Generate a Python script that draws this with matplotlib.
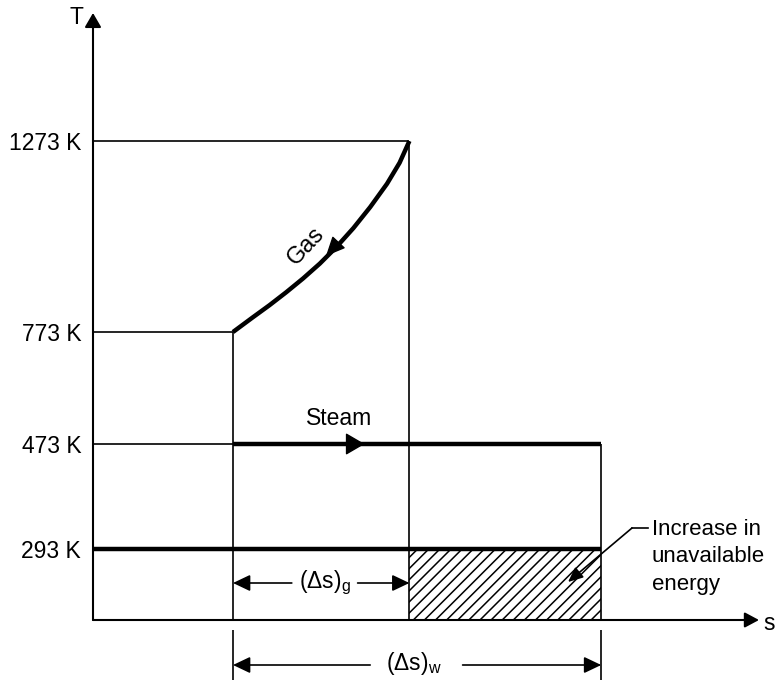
import numpy as np
import matplotlib
matplotlib.use("Agg")
import matplotlib.pyplot as plt
from matplotlib.transforms import blended_transform_factory

plt.rcParams["font.family"] = ["Liberation Sans", "DejaVu Sans"]
plt.rcParams["mathtext.fontset"] = "custom"
plt.rcParams["mathtext.rm"] = "Liberation Sans"
plt.rcParams["mathtext.it"] = "Liberation Sans:italic"
plt.rcParams["hatch.linewidth"] = 1.1

# dados (T em K, s em unidades arbitrárias)
T_levels = [1273, 773, 473, 293]
T_labels = ["1273 K", "773 K", "473 K", "293 K"]
T_gas_in, T_gas_out, T_steam, T_0 = T_levels
s_1 = 1.0   # fim do gás / início do vapor
s_2 = 2.26  # início do gás
s_3 = 3.63  # fim do vapor

# curva do gás
gas_s = [1.00, 1.14, 1.26, 1.38, 1.50, 1.62, 1.74, 1.86, 1.98, 2.10, 2.19, 2.26]
gas_T = [773, 811, 843, 877, 913, 952, 996, 1045, 1100, 1161, 1216, 1273]

# escala esquemática do eixo T (não linear, como no desenho)
knots_T = np.array([-1000.0, 0, 293, 473, 773, 1273, 3000])
knots_h = np.array([-242.3, 0, 71, 176, 288, 479, 1138.7])


def T2h(T):
    return np.interp(T, knots_T, knots_h)


def h2T(h):
    return np.interp(h, knots_h, knots_T)


fino = 1.2
grosso = 3.2

fig = plt.figure(figsize=(7.76, 6.8), dpi=100)
ax = fig.add_axes([0, 0, 1, 1])
ax.set_yscale("function", functions=(T2h, h2T))
ax.set_xlim(-93 / 140, 683 / 140)
ax.set_ylim(h2T(-60), h2T(620))

# eixos com seta
ax.spines["top"].set_color("none")
ax.spines["right"].set_color("none")
ax.spines["left"].set_position(("data", 0))
ax.spines["bottom"].set_position(("data", 0))
ax.spines["left"].set_color("none")
ax.spines["bottom"].set_color("none")
ax.set_xticks([])
ax.set_yticks(T_levels, T_labels)
ax.tick_params(axis="y", length=0, pad=8.5, labelsize=16.5)
ax.yaxis.set_minor_locator(matplotlib.ticker.NullLocator())


def seta(p0, p1, hl, hw, lw=fino, **kw):
    ax.annotate(
        "",
        xy=p1,
        xytext=p0,
        arrowprops=dict(
            arrowstyle=f"-|>,head_length={hl},head_width={hw}",
            lw=lw,
            color="k",
            shrinkA=0,
            shrinkB=0,
            mutation_scale=1,
        ),
        **kw,
    )


seta((0, 0), (0, h2T(607)), 8.6, 5.0, lw=1.5)
seta((0, 0), ((759 - 93) / 140, 0), 8.6, 4.6, lw=1.5)
ax.text(-0.12, h2T(603), "T", fontsize=16.5, ha="center", va="center")
ax.text(4.83, h2T(-3), "s", fontsize=16.5, ha="center", va="center")

# linhas do diagrama
ax.hlines(T_gas_in, 0, s_2, color="k", lw=fino)
ax.hlines([T_gas_out, T_steam], 0, s_1, color="k", lw=fino)
ax.hlines(T_steam, s_1, s_3, color="k", lw=grosso)
ax.hlines(T_0, 0, s_3, color="k", lw=grosso)
ax.vlines(s_1, 0, T_gas_out, color="k", lw=fino)
ax.vlines(s_2, 0, T_gas_in, color="k", lw=fino)
ax.vlines(s_3, 0, T_steam, color="k", lw=fino)

# energia indisponível (hachurada)
ax.fill_between([s_2, s_3], 0, T_0, facecolor="none", edgecolor="k", hatch="///", linewidth=0)

# gás
ax.plot(gas_s, gas_T, color="k", lw=grosso, solid_joinstyle="round", solid_capstyle="butt")
seta((1.72, 994), (1.664, 972), 12, 5.5, lw=1)
ax.text(1.525, 998, "Gas", fontsize=17, rotation=47, ha="center", va="center", rotation_mode="anchor")

# vapor
seta((1.80, T_steam), (1.94, T_steam), 12, 7.0, lw=1)
ax.text(1.757, h2T(195), "Steam", fontsize=16.5, ha="center", va="baseline")

# cotas
seta((1.42, h2T(37)), (s_1, h2T(37)), 10.5, 5)
seta((1.89, h2T(37)), (s_2, h2T(37)), 10.5, 5)
ax.text(1.66, h2T(32), r"$\mathregular{(\Delta s)_g}$", fontsize=16.5, ha="center", va="baseline")

abaixo = blended_transform_factory(ax.transData, ax.transAxes)
ax.vlines([s_1, s_3], 0, 50 / 680, color="k", lw=fino, transform=abaixo)
seta((1.98, 15 / 680), (s_1, 15 / 680), 10.5, 5, xycoords=abaixo, textcoords=abaixo)
seta((2.64, 15 / 680), (s_3, 15 / 680), 10.5, 5, xycoords=abaixo, textcoords=abaixo)
ax.text(2.29, 10 / 680, r"$\mathregular{(\Delta s)_w}$", fontsize=16.5, ha="center", va="baseline",
        transform=abaixo)

# legenda da área
ax.text(3.99, h2T(101), "Increase in\nunavailable\nenergy", fontsize=16, ha="left", va="top",
        linespacing=1.4)
ax.plot([3.964, 3.85], [h2T(92), h2T(92)], color="k", lw=fino)
seta((3.85, h2T(92)), (3.393, h2T(38)), 9, 4, lw=fino)

fig.savefig("out.png", dpi=100)
